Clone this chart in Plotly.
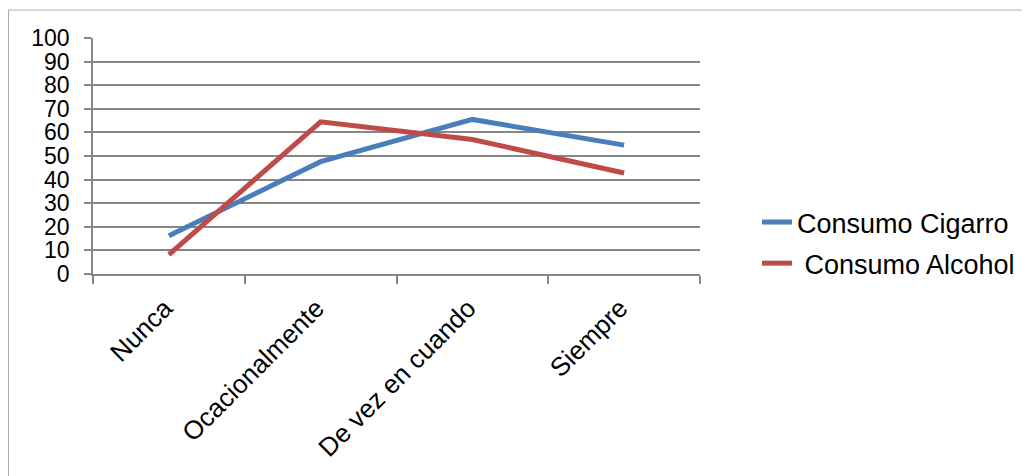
import plotly.graph_objects as go

categories = ["Nunca", "Ocacionalmente", "De vez en cuando", "Siempre"]
cigarro = [16.2, 47.6, 65.5, 54.6]
alcohol = [8.2, 64.5, 57.0, 42.8]
series_names = ["Consumo Cigarro", "\u00a0Consumo Alcohol"]
y_ticks = list(range(0, 101, 10))

OFF = 8  # page body margin
W, H = 1030 - OFF, 476 - OFF
L, T = 93 - OFF, 38 - OFF
PR, PB = 700 - OFF, 274 - OFF  # plot right / bottom in figure px
R, B = W - PR, H - PB
pw, ph = PR - L, PB - T

def px(x):
    return (x - OFF - L) / pw

def py(y):
    return (PB - (y - OFF)) / ph

FONT = "Liberation Sans, Arial, sans-serif"
GRID = "#868686"

fig = go.Figure()
fig.add_trace(go.Scatter(x=categories, y=cigarro, mode="lines", name=series_names[0],
                         line=dict(color="#4A7EBB", width=5), legendgroup="a"))
fig.add_trace(go.Scatter(x=categories, y=alcohol, mode="lines", name=series_names[1],
                         line=dict(color="#BE4B48", width=5), legendgroup="b"))

fig.update_layout(
    width=W, height=H,
    margin=dict(l=L, r=R, t=T, b=B, autoexpand=False),
    paper_bgcolor="white", plot_bgcolor="white",
    font=dict(family=FONT, color="black", size=24),
    showlegend=True,
    legend=dict(x=px(757), y=py(198), xanchor="left", yanchor="top",
                font=dict(size=27, family=FONT), tracegroupgap=3,
                bgcolor="rgba(0,0,0,0)"),
    xaxis=dict(type="category", tickson="boundaries", ticks="outside", ticklen=8,
               tickcolor=GRID, tickwidth=1.5, showline=True, linecolor=GRID, linewidth=1.5,
               showgrid=False, tickangle=-45, tickfont=dict(size=26, family=FONT),
               ticklabelstandoff=7, ticklabelshift=-4,
               range=[-0.5, 3.5]),
    yaxis=dict(range=[0, 100], tickvals=y_ticks, ticks="outside", ticklen=7,
               tickcolor=GRID, tickwidth=1.5, showline=True, linecolor=GRID, linewidth=1.5,
               showgrid=True, gridcolor=GRID, gridwidth=1.5, zeroline=False,
               ticklabelstandoff=10,
               tickfont=dict(size=23, family=FONT)),
    shapes=[
        dict(type="line", xref="paper", yref="paper", x0=px(0), x1=px(1030), y0=py(10), y1=py(10),
             line=dict(color="#CCCCCC", width=1.5)),
        dict(type="line", xref="paper", yref="paper", x0=px(8), x1=px(8), y0=py(10), y1=py(476),
             line=dict(color="#AAAAAA", width=2)),
    ],
)

fig.write_html("out.html")
